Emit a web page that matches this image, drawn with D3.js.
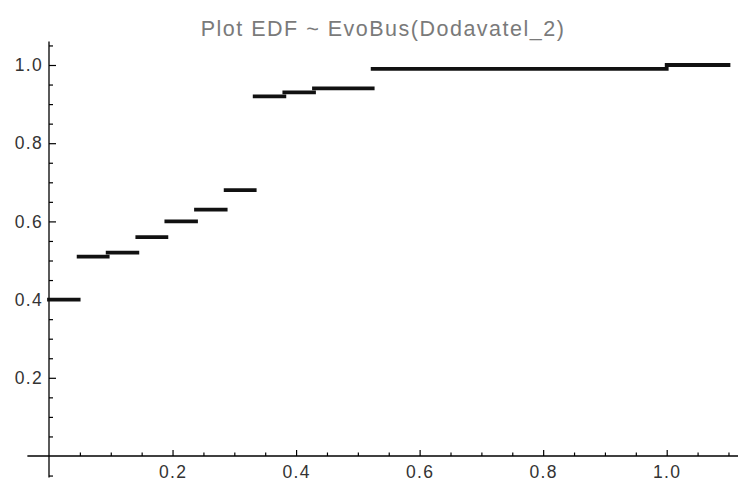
<!DOCTYPE html>
<html>
<head>
<meta charset="utf-8">
<script src="https://cdn.jsdelivr.net/npm/d3@7"></script>
<style>
  body { margin: 0; background: #fff; }
  svg { display: block; }
  .tick text { font-family: "Liberation Sans", Arial, sans-serif; font-size: 17.5px; letter-spacing: 1.3px; fill: #333; }
</style>
</head>
<body>
<div id="chart"></div>
<script>
// EDF steps: each value holds from stepX[i] to the next break
const stepX = [0, 0.048, 0.095, 0.143, 0.19, 0.238, 0.286, 0.333, 0.381, 0.429, 0.524, 1.0];
const stepY = [0.40, 0.51, 0.52, 0.56, 0.60, 0.63, 0.68, 0.92, 0.93, 0.94, 0.99, 1.0];
const xEnd = 1.1;
const xTicks = [0.2, 0.4, 0.6, 0.8, 1.0];
const yTicks = [0.2, 0.4, 0.6, 0.8, 1.0];
const title = 'Plot EDF ~ EvoBus(Dodavatel_2)';

const width = 738;
const height = 485;

const x = d3.scaleLinear().domain([0, 1]).range([49, 666.7]);
const y = d3.scaleLinear().domain([0, 1]).range([456, 65]);

const svg = d3.select('#chart')
    .append('svg')
    .attr('width', width)
    .attr('height', height);

svg.append('text')
    .attr('x', 383)
    .attr('y', 36)
    .attr('text-anchor', 'middle')
    .style('font-family', '"Liberation Sans", Arial, sans-serif')
    .style('font-size', '21.5px')
    .style('letter-spacing', '1.5px')
    .style('fill', '#7a7a7a')
    .text(title);

const minorX = d3.range(0.05, 1.11, 0.05).filter(v => !xTicks.some(t => Math.abs(t - v) < 1e-6));
const minorY = d3.range(-0.05, 1.06, 0.05).filter(v => Math.abs(v) > 1e-6 && !yTicks.some(t => Math.abs(t - v) < 1e-6));

// x axis, ticks pointing up
const xAxis = svg.append('g').attr('transform', `translate(0, ${y(0)})`);
xAxis.call(d3.axisBottom(x).tickValues(xTicks).tickSize(-6).tickPadding(10).tickFormat(d3.format('.1f')))
    .call(g => g.select('.domain').remove());
xAxis.append('g')
    .call(d3.axisBottom(x).tickValues(minorX).tickSize(-3.5).tickFormat(''))
    .call(g => g.select('.domain').remove());
xAxis.append('line')
    .attr('x1', x(-0.035)).attr('x2', width)
    .attr('stroke', '#000').attr('stroke-width', 1.3);

// y axis, ticks pointing right
const yAxis = svg.append('g').attr('transform', `translate(${x(0)}, 0)`);
yAxis.call(d3.axisLeft(y).tickValues(yTicks).tickSize(-7).tickPadding(6).tickFormat(d3.format('.1f')))
    .call(g => g.select('.domain').remove());
yAxis.append('g')
    .call(d3.axisLeft(y).tickValues(minorY).tickSize(-4).tickFormat(''))
    .call(g => g.select('.domain').remove());
yAxis.append('line')
    .attr('y1', y(1.06)).attr('y2', y(-0.055))
    .attr('stroke', '#000').attr('stroke-width', 1.3);

svg.selectAll('.tick line').attr('stroke', '#000').attr('stroke-width', 1.2);

const steps = stepX.map((d, i) => ({ x0: d, x1: i < stepX.length - 1 ? stepX[i + 1] : xEnd, v: stepY[i] }));

svg.selectAll('line.step')
    .data(steps)
    .enter()
    .append('line')
    .attr('class', 'step')
    .attr('x1', d => x(d.x0))
    .attr('x2', d => x(d.x1))
    .attr('y1', d => y(d.v))
    .attr('y2', d => y(d.v))
    .attr('stroke', '#111')
    .attr('stroke-width', 3.8)
    .attr('stroke-linecap', 'square');
</script>
</body>
</html>
